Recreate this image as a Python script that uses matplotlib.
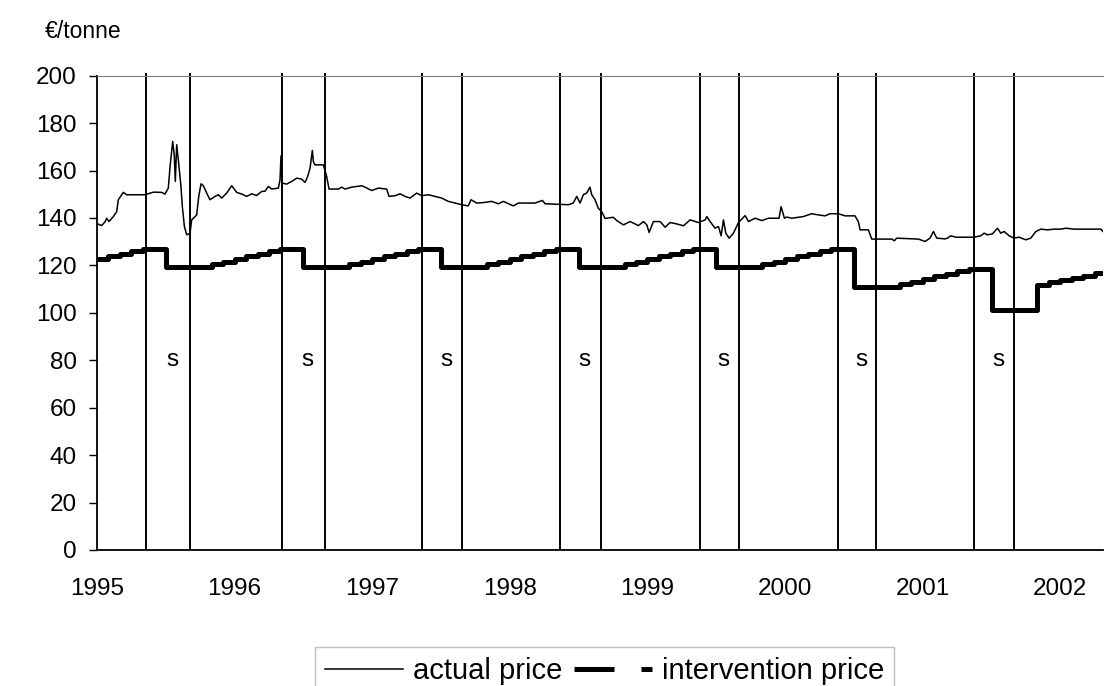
import matplotlib.pyplot as plt
from matplotlib.lines import Line2D
import numpy as np

plt.rcParams['font.family'] = ['Liberation Sans', 'DejaVu Sans']

# actual price, decimal years and EUR/tonne
actual_t = [
    1995.010, 1995.034, 1995.060, 1995.070, 1995.087, 1995.119, 1995.143, 1995.155, 1995.191, 1995.216,
    1995.349, 1995.410, 1995.470, 1995.494, 1995.518, 1995.531, 1995.550, 1995.562, 1995.569, 1995.579,
    1995.591, 1995.610, 1995.620, 1995.635, 1995.652, 1995.676, 1995.688, 1995.724, 1995.741, 1995.756,
    1995.773, 1995.797, 1995.821, 1995.858, 1995.882, 1995.906, 1995.942, 1995.979, 1996.015, 1996.051,
    1996.088, 1996.124, 1996.160, 1996.197, 1996.221, 1996.245, 1996.270, 1996.318, 1996.330, 1996.337,
    1996.347, 1996.378, 1996.415, 1996.451, 1996.487, 1996.512, 1996.531, 1996.548, 1996.565, 1996.572,
    1996.584, 1996.645, 1996.669, 1996.686, 1996.754, 1996.778, 1996.802, 1996.851, 1996.924, 1996.948,
    1996.996, 1997.045, 1997.105, 1997.122, 1997.166, 1997.202, 1997.239, 1997.275, 1997.323, 1997.360,
    1997.408, 1997.456, 1997.504, 1997.553, 1997.650, 1997.698, 1997.718, 1997.759, 1997.807, 1997.868,
    1997.916, 1997.953, 1998.025, 1998.062, 1998.183, 1998.236, 1998.256, 1998.425, 1998.461, 1998.486,
    1998.510, 1998.534, 1998.558, 1998.582, 1998.595, 1998.619, 1998.643, 1998.667, 1998.692, 1998.752,
    1998.777, 1998.825, 1998.874, 1998.934, 1998.971, 1998.995, 1999.012, 1999.043, 1999.092, 1999.128,
    1999.164, 1999.213, 1999.261, 1999.310, 1999.370, 1999.419, 1999.431, 1999.455, 1999.491, 1999.516,
    1999.535, 1999.552, 1999.569, 1999.593, 1999.625, 1999.661, 1999.710, 1999.734, 1999.782, 1999.831,
    1999.879, 1999.927, 1999.956, 1999.971, 1999.995, 2000.012, 2000.048, 2000.133, 2000.193, 2000.242,
    2000.290, 2000.327, 2000.387, 2000.436, 2000.508, 2000.532, 2000.545, 2000.605, 2000.630, 2000.775,
    2000.794, 2000.811, 2000.969, 2001.017, 2001.053, 2001.078, 2001.102, 2001.162, 2001.180, 2001.204,
    2001.240, 2001.374, 2001.422, 2001.446, 2001.470, 2001.507, 2001.543, 2001.567, 2001.592, 2001.628,
    2001.664, 2001.701, 2001.749, 2001.785, 2001.822, 2001.858, 2001.907, 2001.955, 2002.004, 2002.040,
    2002.100, 2002.294, 2002.310,
]
actual_v = [
    137.4, 136.8, 138.5, 139.9, 138.5, 140.6, 142.7, 147.7, 150.8, 149.8,
    149.8, 150.9, 150.8, 150.1, 152.6, 161.7, 172.3, 166.0, 155.4, 170.9,
    164.5, 153.3, 144.9, 136.4, 132.9, 133.6, 139.2, 141.3, 149.8, 154.4,
    153.6, 150.5, 147.7, 149.1, 149.8, 148.4, 150.5, 153.6, 150.8, 150.1,
    149.1, 150.2, 149.5, 151.2, 151.3, 153.3, 152.2, 152.6, 156.1, 166.2,
    154.7, 154.3, 155.4, 156.8, 156.4, 155.0, 157.5, 161.0, 168.5, 163.8,
    162.4, 162.4, 157.5, 152.2, 152.2, 153.0, 152.2, 153.0, 153.6, 153.0,
    151.6, 152.6, 152.2, 149.1, 149.4, 150.2, 149.1, 148.4, 150.5, 149.4,
    149.8, 149.1, 148.4, 147.0, 145.6, 145.1, 147.7, 146.3, 146.5, 147.0,
    146.0, 147.0, 145.1, 146.3, 146.3, 147.4, 146.0, 145.6, 146.3, 149.1,
    146.3, 149.8, 150.5, 153.0, 149.8, 147.7, 144.1, 142.7, 139.8, 140.3,
    138.9, 137.1, 138.5, 136.8, 138.5, 137.1, 133.9, 138.5, 138.5, 136.1,
    138.1, 137.5, 136.7, 139.2, 138.1, 139.2, 140.6, 138.5, 135.7, 136.4,
    132.5, 139.2, 133.6, 131.5, 133.6, 138.1, 141.0, 138.5, 139.9, 138.9,
    139.9, 139.9, 139.9, 144.8, 139.9, 140.4, 139.9, 140.6, 141.8, 141.3,
    140.9, 141.8, 141.8, 140.9, 140.9, 138.5, 135.0, 135.0, 131.1, 131.1,
    130.4, 131.5, 131.1, 130.1, 131.5, 134.3, 131.5, 131.2, 131.5, 132.5,
    131.9, 131.9, 132.5, 133.6, 132.9, 133.3, 135.7, 133.6, 134.3, 132.5,
    131.5, 131.9, 130.8, 131.5, 134.3, 135.3, 135.0, 135.3, 135.3, 135.7,
    135.3, 135.3, 134.3,
]

# intervention price, monthly from Jan 1995 to Apr 2002
year_cycle = [122.7, 123.8, 124.9, 125.9, 127.0, 127.0, 119.5, 119.5, 119.5, 119.5, 120.6, 121.6]
interv_v = (
    year_cycle * 5
    + [122.7, 123.8, 124.9, 125.9, 127.0, 127.0, 111.1, 111.1, 111.1, 111.1, 112.2, 113.2]
    + [114.3, 115.4, 116.4, 117.5, 118.6, 118.6, 101.3, 101.3, 101.3, 101.3, 111.8, 112.8]
    + [113.7, 114.6, 115.6, 116.6]
)
interv_t = 1995 + np.arange(len(interv_v)) / 12

# storage periods (vertical lines)
s_start = [1995.358, 1996.344, 1997.363, 1998.367, 1999.385, 2000.387, 2001.375]
s_end = [1995.679, 1996.656, 1997.654, 1998.660, 1999.662, 2000.664, 2001.666]

years = list(range(1995, 2003))

fig = plt.figure(figsize=(11.04, 6.86), dpi=100)
ax = fig.add_axes([97 / 1104, 1 - 550 / 686, (1103 - 97) / 1104, (550 - 75.7) / 686])

ax.plot(actual_t, actual_v, color='black', lw=1.1, label='actual price')
ax.plot(list(interv_t) + [2002.31], interv_v + [interv_v[-1]], color='black', lw=3.6,
        drawstyle='steps-post', solid_capstyle='butt')

for a, b in zip(s_start, s_end):
    ax.vlines([a, b], 0, 201.3, color='black', lw=1.4, clip_on=False)
    ax.text((a + b) / 2 + 0.03, 80, 's', ha='center', va='center', fontsize=17.5)

ax.set_xlim(1995, 2002.31)
ax.set_ylim(0, 200)
ax.set_yticks(range(0, 201, 20))
ax.set_xticks(years)
ax.set_xticklabels([str(y) for y in years])
ax.tick_params(axis='x', length=0, pad=20, labelsize=17.5)
ax.tick_params(axis='y', direction='out', length=5.5, width=1, pad=9, labelsize=17.5)

ax.spines['left'].set_linewidth(1.3)
ax.spines['bottom'].set_linewidth(1.3)
ax.spines['top'].set_color('#808080')
ax.spines['right'].set_visible(False)

fig.text(45 / 1104, 1 - 32 / 686, '€/tonne', fontsize=16.5, va='center', ha='left')

handles = [
    Line2D([], [], color='black', lw=1.1),
    Line2D([], [], color='black', lw=3.6, dashes=(8, 5.4), dash_capstyle='butt'),
]
leg = fig.legend(handles, ['actual price', 'intervention price'], ncol=2,
                 loc='upper left', bbox_to_anchor=(315 / 1104, 1 - 646.7 / 686),
                 fontsize=21, frameon=True, fancybox=False, borderaxespad=0,
                 handlelength=2.67, handletextpad=0.34, columnspacing=0.4, borderpad=0.35)
leg.get_frame().set_edgecolor('#b0b0b0')
leg.get_frame().set_linewidth(1)

fig.savefig('out.png', dpi=100)
